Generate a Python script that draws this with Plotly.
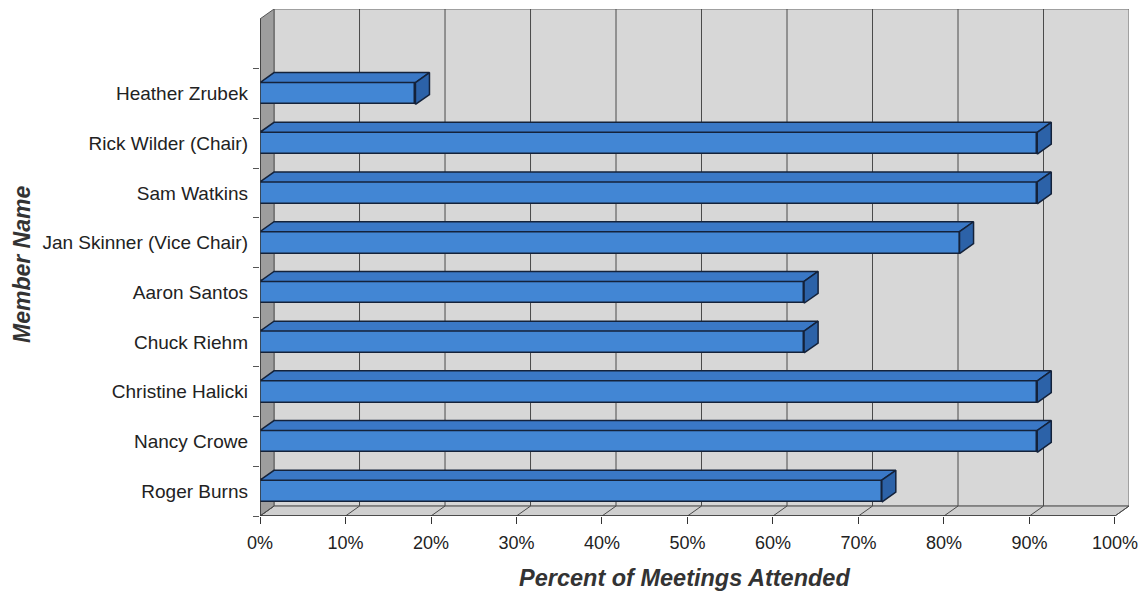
import plotly.graph_objects as go

# ---- data ----
members = ["Roger Burns", "Nancy Crowe", "Christine Halicki", "Chuck Riehm",
           "Aaron Santos", "Jan Skinner (Vice Chair)", "Sam Watkins",
           "Rick Wilder (Chair)", "Heather Zrubek"]
attendance = [8/11, 10/11, 10/11, 7/11, 7/11, 9/11, 10/11, 10/11, 2/11]
x_ticks = [0, 0.1, 0.2, 0.3, 0.4, 0.5, 0.6, 0.7, 0.8, 0.9, 1.0]
x_ticklabels = ["0%", "10%", "20%", "30%", "40%", "50%", "60%", "70%", "80%", "90%", "100%"]

# ---- 3D style parameters ----
DX = 0.0164   # depth shift in x (data units)
DY = 0.2      # depth shift in y (data units)
H = 0.44      # bar thickness
YMIN, YMAX = -0.5, 9.5

FONT = "Liberation Sans, Arial, sans-serif"
FRONT = "#4286d4"
TOP = "#3a78c6"
SIDE = "#2c62a8"
EDGE = "#14223a"

ypos = list(range(len(members)))

fig = go.Figure()

# top faces
tx, ty = [], []
for k, v in zip(ypos, attendance):
    y0 = k + H / 2
    tx += [0, v, v + DX, DX, 0, None]
    ty += [y0, y0, y0 + DY, y0 + DY, y0, None]
fig.add_trace(go.Scatter(x=tx, y=ty, mode="lines", fill="toself", fillcolor=TOP,
                         line=dict(color=EDGE, width=1.5), hoverinfo="skip", showlegend=False))
# side faces
sx, sy = [], []
for k, v in zip(ypos, attendance):
    sx += [v, v + DX, v + DX, v, v, None]
    sy += [k - H / 2, k - H / 2 + DY, k + H / 2 + DY, k + H / 2, k - H / 2, None]
fig.add_trace(go.Scatter(x=sx, y=sy, mode="lines", fill="toself", fillcolor=SIDE,
                         line=dict(color=EDGE, width=1.5), hoverinfo="skip", showlegend=False))
# front faces
fig.add_trace(go.Bar(x=attendance, y=ypos, orientation="h", width=H,
                     marker=dict(color=FRONT, line=dict(color=EDGE, width=1.5)),
                     showlegend=False, hoverinfo="skip"))

shapes = []
# back wall
shapes.append(dict(type="rect", xref="x", yref="y", x0=DX, x1=1 + DX, y0=YMIN + DY, y1=YMAX + DY,
                   fillcolor="#d7d7d7", line=dict(color="#6a6a6a", width=1), layer="below"))
# floor
shapes.append(dict(type="path", xref="x", yref="y",
                   path=f"M 0 {YMIN} L 1 {YMIN} L {1+DX} {YMIN+DY} L {DX} {YMIN+DY} Z",
                   fillcolor="#cfcfcf", line=dict(color="#555555", width=1), layer="below"))
# left wall
shapes.append(dict(type="path", xref="x", yref="y",
                   path=f"M 0 {YMIN} L {DX} {YMIN+DY} L {DX} {YMAX+DY} L 0 {YMAX} Z",
                   fillcolor="#9e9e9e", line=dict(color="#555555", width=1), layer="below"))
# gridlines on back wall + floor diagonals
for t in x_ticks[1:-1]:
    shapes.append(dict(type="line", xref="x", yref="y", x0=t + DX, x1=t + DX, y0=YMIN + DY, y1=YMAX + DY,
                       line=dict(color="#4a4a4a", width=1), layer="below"))
for t in x_ticks:
    shapes.append(dict(type="line", xref="x", yref="y", x0=t, x1=t + DX, y0=YMIN, y1=YMIN + DY,
                       line=dict(color="#4a4a4a", width=1), layer="below"))
# front axes lines
shapes.append(dict(type="line", xref="x", yref="y", x0=0, x1=1, y0=YMIN, y1=YMIN,
                   line=dict(color="#333333", width=1.5), layer="above"))
shapes.append(dict(type="line", xref="x", yref="y", x0=0, x1=0, y0=YMIN, y1=YMAX,
                   line=dict(color="#333333", width=1.5), layer="above"))

fig.update_layout(
    width=1138, height=596,
    margin=dict(l=260, r=9, t=9, b=80, autoexpand=False),
    paper_bgcolor="white", plot_bgcolor="white",
    shapes=shapes,
    bargap=0,
    hovermode=False,
    font=dict(family=FONT, size=18, color="#222222"),
    xaxis=dict(range=[0, 1 + DX], tickvals=x_ticks, ticktext=x_ticklabels,
               showgrid=False, zeroline=False, showline=False, automargin=False,
               ticks="outside", ticklen=7, tickcolor="#333333", ticklabelstandoff=3,
               ticklabeloverflow="allow",
               tickfont=dict(size=18, color="#222222"), fixedrange=True),
    yaxis=dict(range=[YMIN, YMAX + DY], tickvals=ypos, ticktext=members,
               showgrid=False, zeroline=False, showline=False, ticks="", automargin=False,
               ticklabelstandoff=11, ticklabeloverflow="allow",
               minor=dict(tickvals=[k - 0.5 for k in range(len(members) + 1)],
                          ticks="outside", ticklen=6, tickcolor="#555555", showgrid=False),
               tickfont=dict(size=19, color="#222222"), fixedrange=True),
    annotations=[
        dict(text="<b><i>Percent of Meetings Attended</i></b>", xref="paper", yref="paper",
             x=(684 - 260) / 869, y=-(578 - 516) / 507, xanchor="center", yanchor="middle",
             showarrow=False, font=dict(size=23.5, color="#333333", family=FONT)),
        dict(text="<b><i>Member Name</i></b>", xref="paper", yref="paper",
             x=(22 - 260) / 869, y=(516 - 265) / 507, xanchor="center", yanchor="middle",
             showarrow=False, textangle=-90, font=dict(size=23, color="#333333", family=FONT)),
    ],
)

fig.write_html("out.html", config={"displayModeBar": False},
               post_script="document.body.style.margin='0';document.body.style.overflow='hidden';")
